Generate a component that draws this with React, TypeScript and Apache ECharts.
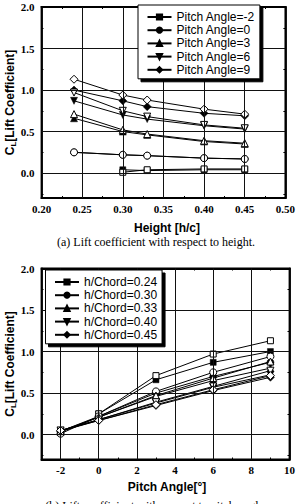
import React, { useEffect, useRef } from "react";
import * as echarts from "echarts";

// Ground-effect lift coefficient: two measurement sets (solid / hollow markers)
const heights = [0.24, 0.3, 0.33, 0.4, 0.45];
const pitchAngles = [-2, 0, 3, 6, 9];

// rows follow pitchAngles, columns follow heights (null = no point)
const clSolidPitchNeg2 = [null, 0.04, 0.03, 0.04, 0.04];
const clSolidPitch0 = [0.25, 0.22, 0.21, 0.18, 0.17];
const clSolidPitch3 = [0.66, 0.5, 0.46, 0.38, 0.35];
const clSolidPitch6 = [0.87, 0.7, 0.65, 0.57, 0.53];
const clSolidPitch9 = [1.0, 0.87, 0.8, 0.72, 0.69];

const clHollowPitchNeg2 = [null, 0.01, 0.04, 0.05, 0.05];
const clHollowPitch0 = [0.25, 0.22, 0.21, 0.18, 0.17];
const clHollowPitch3 = [0.71, 0.52, 0.47, 0.39, 0.36];
const clHollowPitch6 = [0.97, 0.75, 0.68, 0.58, 0.54];
const clHollowPitch9 = [1.13, 0.94, 0.88, 0.77, 0.71];

const clSolid = [clSolidPitchNeg2, clSolidPitch0, clSolidPitch3, clSolidPitch6, clSolidPitch9];
const clHollow = [clHollowPitchNeg2, clHollowPitch0, clHollowPitch3, clHollowPitch6, clHollowPitch9];

const pitchLabels = pitchAngles.map((p) => `Pitch Angle=${p}`);
const heightLabels = heights.map((h) => `h/Chord=${h.toFixed(2)}`);

// axis ranges and tick positions
const heightRange = [0.2, 0.5];
const heightTicks = [0.2, 0.25, 0.3, 0.35, 0.4, 0.45, 0.5];
const heightMinorTicks = [0.225, 0.275, 0.325, 0.375, 0.425, 0.475];
const pitchRange = [-3, 10];
const pitchTicks = [-2, 0, 2, 4, 6, 8, 10];
const pitchMinorTicks = [-3, -1, 1, 3, 5, 7, 9];
const clRange = [-0.3, 2.0];
const clTicks = [0, 0.5, 1.0, 1.5, 2.0];
const clMinorTicks = [-0.25, 0.25, 0.75, 1.25, 1.75];

const markerShapes = ["rect", "circle", "triangle", "triangle", "diamond"];
const markerRotations = [0, 0, 0, 180, 0];
const markerSizes = [6, 7, 7, 7, 8];

const SERIF = "'Liberation Serif', 'Times New Roman', serif";
const SANS = "'Liberation Sans', Arial, sans-serif";

function pairs(xs: number[], ys: (number | null)[]) {
  const out: number[][] = [];
  xs.forEach((x, i) => {
    const y = ys[i];
    if (y !== null && y !== undefined) out.push([x, y]);
  });
  return out;
}

const AXES_PER_GRID = 4;

function makeSeries(name: string, data: number[][], k: number, hollow: boolean, gridIdx: number) {
  return {
    type: "line",
    name,
    data,
    xAxisIndex: gridIdx * AXES_PER_GRID,
    yAxisIndex: gridIdx * AXES_PER_GRID,
    symbol: markerShapes[k],
    symbolRotate: markerRotations[k],
    symbolSize: markerSizes[k],
    showAllSymbol: true,
    z: hollow ? 4 : 3,
    silent: true,
    lineStyle: { color: "#000", width: 1 },
    itemStyle: hollow
      ? { color: "#fff", borderColor: "#000", borderWidth: 1 }
      : { color: "#000", borderColor: "#000", borderWidth: 0.5 },
    emphasis: { disabled: true },
  };
}

// grid lines at the major ticks, placed through the axes' own scales
function gridLines(gridIdx: number, xLines: number[], yLines: number[]) {
  return {
    type: "line",
    name: `grid-${gridIdx}`,
    data: [],
    xAxisIndex: gridIdx * AXES_PER_GRID,
    yAxisIndex: gridIdx * AXES_PER_GRID,
    z: 1,
    silent: true,
    markLine: {
      silent: true,
      symbol: ["none", "none"],
      label: { show: false },
      emphasis: { disabled: true },
      lineStyle: { type: "solid", color: "#111", width: 1 },
      data: [...xLines.map((v) => ({ xAxis: v })), ...yLines.map((v) => ({ yAxis: v }))],
    },
  };
}

// main axis with labels, mirrored frame axis, and two minor-tick axes
function axisSet(
  gridIndex: number,
  range: number[],
  major: number[],
  minor: number[],
  digits: number,
  isX: boolean
) {
  const base = { type: "value", gridIndex, min: range[0], max: range[1] };
  const frame = { show: true, onZero: false, lineStyle: { color: "#000", width: 1.8 } };
  const hiddenLine = { show: false, onZero: false };
  const majorTick = {
    show: true,
    inside: true,
    length: 4,
    customValues: major,
    lineStyle: { color: "#000", width: 1 },
  };
  const minorTick = {
    show: true,
    inside: true,
    length: 2,
    customValues: minor,
    lineStyle: { color: "#000", width: 1 },
  };
  const near = isX ? "bottom" : "left";
  const far = isX ? "top" : "right";
  return [
    {
      ...base,
      position: near,
      axisLine: frame,
      axisTick: majorTick,
      splitLine: { show: false },
      axisLabel: {
        customValues: major,
        fontFamily: SERIF,
        fontWeight: "bold",
        fontSize: 11,
        color: "#000",
        margin: isX ? 5 : 7,
        formatter: (v: number) => (digits === 0 ? String(Math.round(v)) : v.toFixed(digits)),
      },
    },
    {
      ...base,
      position: far,
      axisLine: frame,
      axisTick: majorTick,
      splitLine: { show: false },
      axisLabel: { show: false },
    },
    {
      ...base,
      position: near,
      axisLine: hiddenLine,
      axisTick: minorTick,
      splitLine: { show: false },
      axisLabel: { show: false },
    },
    {
      ...base,
      position: far,
      axisLine: hiddenLine,
      axisTick: minorTick,
      splitLine: { show: false },
      axisLabel: { show: false },
    },
  ];
}

function legendBox(left: number, top: number, names: string[]) {
  return {
    left,
    top,
    orient: "vertical",
    data: names,
    selectedMode: false,
    itemWidth: 24,
    itemHeight: 6.5,
    itemGap: 1.2,
    padding: [6, 5, 3, 8.5],
    backgroundColor: "#fff",
    borderColor: "#000",
    borderWidth: 1,
    shadowColor: "#000",
    shadowBlur: 0,
    shadowOffsetX: 3,
    shadowOffsetY: 3,
    textStyle: { fontFamily: SANS, fontSize: 12, color: "#000" },
    z: 10,
  };
}

function yTitle(x: number, y: number) {
  return {
    type: "text",
    x,
    y,
    rotation: Math.PI / 2,
    z: 20,
    style: {
      text: "{c|C}{s|L}{c|[Lift Coefficient]}",
      align: "center",
      verticalAlign: "middle",
      rich: {
        c: { fontFamily: SANS, fontWeight: "bold", fontSize: 12, lineHeight: 14, fill: "#000" },
        s: {
          fontFamily: SANS,
          fontWeight: "bold",
          fontSize: 8,
          lineHeight: 8,
          padding: [6, 0, 0, 0],
          fill: "#000",
        },
      },
    },
  };
}

function plainText(text: string, x: number, y: number, font: string) {
  return {
    type: "text",
    x,
    y,
    z: 20,
    style: { text, font, fill: "#000", align: "center", verticalAlign: "middle" },
  };
}

export default function App() {
  const ref = useRef<HTMLDivElement>(null);

  useEffect(() => {
    if (!ref.current) return;
    const chart = echarts.init(ref.current, undefined, { renderer: "svg" });

    const series: any[] = [
      gridLines(0, heightTicks.slice(1, -1), clTicks.slice(0, -1)),
      gridLines(1, pitchTicks.slice(0, -1), clTicks.slice(0, -1)),
    ];
    // (a) CL against height, one line per pitch angle
    pitchAngles.forEach((_, i) => {
      series.push(makeSeries(pitchLabels[i], pairs(heights, clSolid[i]), i, false, 0));
    });
    pitchAngles.forEach((_, i) => {
      series.push(makeSeries(`${pitchLabels[i]} (hollow)`, pairs(heights, clHollow[i]), i, true, 0));
    });
    // (b) CL against pitch angle, one line per height
    heights.forEach((_, j) => {
      series.push(
        makeSeries(heightLabels[j], pairs(pitchAngles, clSolid.map((row) => row[j])), j, false, 1)
      );
    });
    heights.forEach((_, j) => {
      series.push(
        makeSeries(
          `${heightLabels[j]} (hollow)`,
          pairs(pitchAngles, clHollow.map((row) => row[j])),
          j,
          true,
          1
        )
      );
    });

    const frame = { show: true, borderColor: "#000", borderWidth: 1.8, backgroundColor: "transparent" };

    chart.setOption({
      animation: false,
      backgroundColor: "#fff",
      grid: [
        { left: 41.5, top: 7, width: 250, height: 191, ...frame },
        { left: 41.5, top: 268.5, width: 250.5, height: 191, ...frame },
      ],
      xAxis: [
        ...axisSet(0, heightRange, heightTicks, heightMinorTicks, 2, true),
        ...axisSet(1, pitchRange, pitchTicks, pitchMinorTicks, 0, true),
      ],
      yAxis: [
        ...axisSet(0, clRange, clTicks, clMinorTicks, 1, false),
        ...axisSet(1, clRange, clTicks, clMinorTicks, 1, false),
      ],
      legend: [legendBox(138, 5, pitchLabels), legendBox(45.5, 270, heightLabels)],
      series,
      graphic: [
        yTitle(10, 102.5),
        yTitle(10, 364),
        plainText("Height [h/c]", 167, 227.5, `bold 12px ${SANS}`),
        plainText("(a) Lift coefficient with respect to height.", 156, 241.5, `12px ${SERIF}`),
        plainText("Pitch Angle[°]", 167, 487, `bold 12px ${SANS}`),
        plainText("(b) Lift coefficient with respect to pitch angle.", 156, 506, `12px ${SERIF}`),
      ],
    });

    return () => chart.dispose();
  }, []);

  return (
    <div
      ref={ref}
      style={{ position: "absolute", left: 0, top: 0, width: 298, height: 504, background: "#fff" }}
    />
  );
}
